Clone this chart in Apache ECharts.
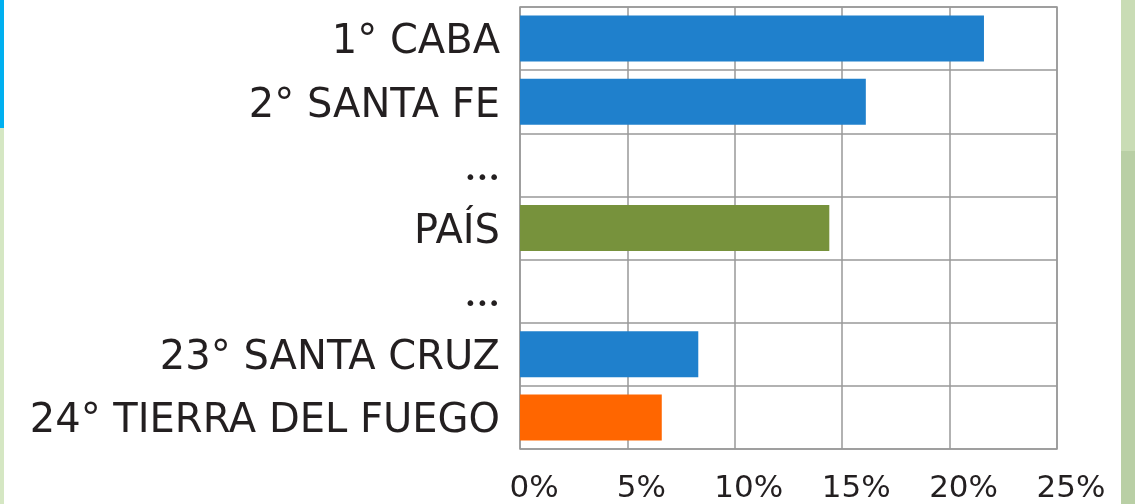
<!DOCTYPE html>
<html>
<head>
<meta charset="utf-8">
<script src="https://cdn.jsdelivr.net/npm/echarts@6/dist/echarts.min.js"></script>
<style>
  html, body { margin: 0; padding: 0; background: #fff; }
  #chart { width: 1135px; height: 504px; }
</style>
</head>
<body>
<div id="chart"></div>
<script>
// provincias (ranking)
var categorias = ['1° CABA', '2° SANTA FE', '...', 'PAÍS', '...', '23° SANTA CRUZ', '24° TIERRA DEL FUEGO'];
// porcentaje
var valores = [21.6, 16.1, null, 14.4, null, 8.3, 6.6];
// color de cada barra
var colores = ['#1f80cc', '#1f80cc', '#1f80cc', '#77923c', '#1f80cc', '#1f80cc', '#ff6600'];
var ticksX = [0, 5, 10, 15, 20, 25];

var myChart = echarts.init(document.getElementById('chart'));

var serieData = [];
valores.forEach(function (v, i) {
    serieData.push({ value: v, itemStyle: { color: colores[i] } });
});

var option = {
    backgroundColor: '#ffffff',
    animation: false,
    graphic: [
        // bordes decorativos de la lámina
        { type: 'rect', shape: { x: 0, y: 0, width: 4, height: 128 }, style: { fill: '#00b0f0' } },
        { type: 'rect', shape: { x: 0, y: 128, width: 4, height: 376 }, style: { fill: '#d5e7c3' } },
        { type: 'rect', shape: { x: 1121, y: 0, width: 14, height: 151 }, style: { fill: '#c9dcb5' } },
        { type: 'rect', shape: { x: 1121, y: 151, width: 14, height: 353 }, style: { fill: '#b9cfa5' } }
    ],
    grid: {
        left: 520,
        right: 78,
        top: 7,
        bottom: 55,
        show: true,
        borderColor: '#999999',
        borderWidth: 1.5,
        containLabel: false
    },
    xAxis: {
        type: 'value',
        min: ticksX[0],
        max: ticksX[ticksX.length - 1],
        interval: 5,
        axisLine: { show: false },
        axisTick: { show: false },
        splitLine: {
            show: true,
            lineStyle: { color: '#999999', width: 1.5 }
        },
        axisLabel: {
            margin: 24,
            color: '#231f20',
            fontFamily: 'DejaVu Sans',
            fontSize: 31,
            padding: [0, 0, 0, 28],
            formatter: '{value}%'
        }
    },
    yAxis: {
        type: 'category',
        inverse: true,
        data: categorias,
        axisLine: { show: false },
        axisTick: { show: false },
        splitLine: {
            show: true,
            lineStyle: { color: '#999999', width: 1.5 }
        },
        axisLabel: {
            margin: 20,
            color: '#231f20',
            fontFamily: 'DejaVu Sans',
            fontSize: 40,
            padding: [9, 0, 0, 0],
            formatter: function (v) {
                return v === '...' ? '{d|•••}' : v;
            },
            rich: {
                d: { fontSize: 20, color: '#231f20', padding: [18, 0, 0, 0] }
            }
        }
    },
    series: [{
        type: 'bar',
        data: serieData,
        barWidth: 46,
        silent: true
    }]
};
myChart.setOption(option);
</script>
</body>
</html>
